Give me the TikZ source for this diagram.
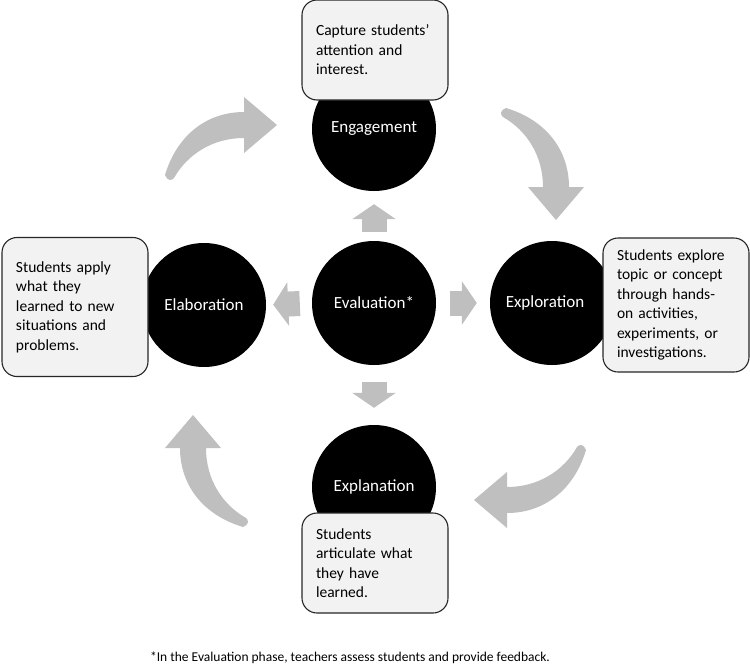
\documentclass[tikz,border=0pt]{standalone}
\usepackage{fontspec}
\setmainfont{Carlito}
\usetikzlibrary{arrows.meta}

\definecolor{arrowgray}{RGB}{191,191,191}
\definecolor{boxgray}{RGB}{242,242,242}

\tikzset{
  phase/.style={circle,fill=black,text=white,minimum size=124pt,inner sep=0pt,
    font=\fontsize{17}{20}\selectfont},
  note/.style={draw=black!85,line width=1.1pt,fill=boxgray,rounded corners=15pt,
    text width=118pt,inner xsep=14pt,inner ysep=0pt,align=left,
    font=\fontsize{15.5}{19.5}\selectfont},
  flow/.style={arrowgray,line width=25pt,-{Triangle[length=15pt,width=43pt]}}
}

\begin{document}
\begin{tikzpicture}[x=1pt,y=-1pt]
  \useasboundingbox (0,0) rectangle (750,667);

  % curved arrows of the cycle
  \foreach \tx/\ty/\ang in {277/125/0, 556/220/-90, 474/500/180, 193/415/90}{
    \fill[arrowgray,shift={(\tx,\ty)},rotate=\ang]
      (0,0) -- (-33,-28) -- (-33,-13)
      .. controls (-70,-13) and (-100,10) .. (-112,50)
      .. controls (-110,56) and (-105,56) .. (-103,53)
      .. controls (-90,30) and (-65,13) .. (-33,13)
      -- (-33,28) -- cycle;
  }

  % phases
  \node[phase] (eval) at (374,303) {Evaluation*};
  \node[phase] (engage) at (374,129) {Engagement};
  \node[phase,label={[text=white,xshift=-7pt,font=\fontsize{17}{20}\selectfont]center:Exploration}] (explore) at (552,303) {};
  \node[phase] (explain) at (374,487) {Explanation};
  \node[phase] (elab) at (204,305) {Elaboration};

  \draw[flow,shorten <=9pt,shorten >=13pt] (eval.north) -- (engage.south);
  \draw[flow,shorten <=14pt,shorten >=13pt] (eval.east) -- (explore.west);
  \draw[flow,shorten <=17pt,shorten >=17pt] (eval.south) -- (explain.north);
  \draw[flow,shorten <=12pt,shorten >=7pt] (eval.west) -- (elab.east);

  % descriptions
  \node[note,minimum height=100pt] (engagenote) at (375,50)
    {Capture students’\\attention and\\interest.};
  \node[note,minimum height=134pt] (explorenote) at (676,305)
    {Students explore\\topic or concept\\through hands-\\on activities,\\experiments, or\\investigations.};
  \node[note,minimum height=100pt] (explainnote) at (375,563)
    {Students\\articulate what\\they have\\learned.};
  \node[note,minimum height=139pt] (elabnote) at (75,307)
    {Students apply\\what they\\learned to new\\situations and\\problems.};

  \node (foot) at (350,658) {\fontsize{13.5}{16}\selectfont *In the Evaluation phase, teachers assess students and provide feedback.};
\end{tikzpicture}
\end{document}
